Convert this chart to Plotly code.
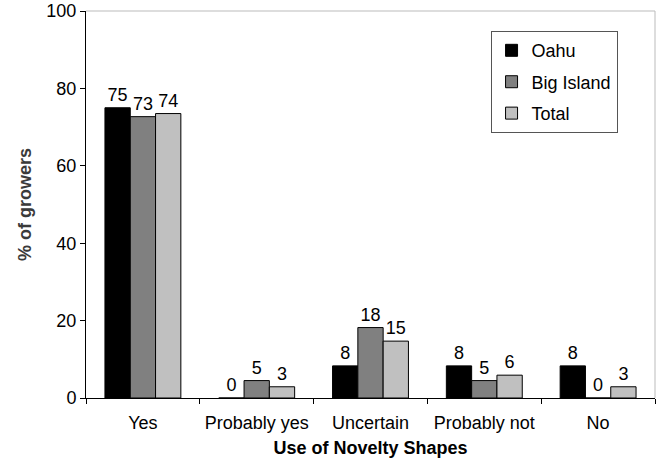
import plotly.graph_objects as go

categories = ["Yes", "Probably yes", "Uncertain", "Probably not", "No"]
oahu = [75.0, 0.0, 8.3, 8.3, 8.3]
big_island = [72.7, 4.5, 18.2, 4.5, 0.0]
total = [73.5, 2.9, 14.7, 5.9, 2.9]

series = [("Oahu", oahu, "#000000"), ("Big Island", big_island, "#808080"), ("Total", total, "#c0c0c0")]

FONT = "Liberation Sans, Arial"

fig = go.Figure()
for name, vals, col in series:
    fig.add_trace(go.Bar(
        x=categories, y=vals, name=name, legendgroup=name,
        marker=dict(color=col, line=dict(color="#000000", width=1)),
        texttemplate="%{y:.0f}", textposition="outside",
        textfont=dict(family=FONT, size=18, color="#000000"),
        cliponaxis=False,
    ))

fig.update_layout(
    width=660, height=458,
    margin=dict(l=86, r=5, t=11, b=60),
    paper_bgcolor="white", plot_bgcolor="white",
    barmode="group", bargap=0.333, bargroupgap=0,
    font=dict(family=FONT, size=18, color="#000000"),
    legend=dict(
        x=0.711, y=0.948, xanchor="left", yanchor="top",
        bordercolor="#555555", borderwidth=1, bgcolor="white",
        font=dict(size=18), itemwidth=30, tracegroupgap=5,
        traceorder="grouped", entrywidth=90, entrywidthmode="pixels",
    ),
    xaxis=dict(
        showline=True, linecolor="#000000", linewidth=1,
        ticks="outside", tickson="boundaries", ticklen=5, tickcolor="#000000",
        ticklabelstandoff=8,
        title=dict(text="<b>Use of Novelty Shapes</b>", font=dict(size=18), standoff=10),
        automargin=False,
    ),
    yaxis=dict(
        range=[0, 100], dtick=20, showgrid=False, zeroline=False,
        showline=True, linecolor="#000000", linewidth=1,
        ticks="outside", ticklen=5, tickcolor="#000000",
        title=dict(text="<b>% of growers</b>", font=dict(size=18, color="#3a3a3a"), standoff=10),
        automargin=False,
    ),
    shapes=[
        dict(type="line", xref="paper", yref="paper", x0=0, x1=1, y0=1, y1=1,
             line=dict(color="#bbbbbb", width=1)),
        dict(type="line", xref="paper", yref="paper", x0=1, x1=1, y0=0, y1=1,
             line=dict(color="#bbbbbb", width=1)),
    ],
)

fig.write_html("out.html", config={"displayModeBar": False},
               post_script="document.body.style.margin='0';")
